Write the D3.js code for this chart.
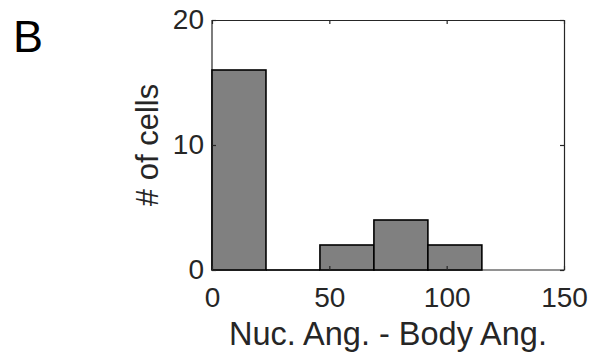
<!DOCTYPE html>
<html>
<head>
<meta charset="utf-8">
<script src="https://cdn.jsdelivr.net/npm/d3@7"></script>
<style>
  body { margin: 0; background: #fff; }
  svg { display: block; font-family: "Liberation Sans", Arial, Helvetica, sans-serif; }
</style>
</head>
<body>
<div id="chart"></div>
<script>
// histogram data
var binEdges = [0, 23, 46, 69, 92, 115];
var counts = [16, 0, 2, 4, 2];
var xTicks = [0, 50, 100, 150];
var yTicks = [0, 10, 20];

var W = 594, H = 358;
var margin = { left: 212, right: 30, top: 20, bottom: 88 };
var width = W - margin.left - margin.right;
var height = H - margin.top - margin.bottom;

var svg = d3.select("#chart")
  .append("svg")
  .attr("width", W)
  .attr("height", H);

var g = svg.append("g")
  .attr("transform", "translate(" + margin.left + "," + margin.top + ")");

var x = d3.scaleLinear().domain([0, 150]).range([0, width]);
var y = d3.scaleLinear().domain([0, 20]).range([height, 0]);

var bins = counts.map(function (c, i) {
  return { x0: binEdges[i], x1: binEdges[i + 1], n: c };
});

var axisColor = "#262626";

function styleAxis(sel) {
  sel.selectAll("path.domain").attr("stroke", axisColor).attr("stroke-width", 1.2);
  sel.selectAll(".tick line").attr("stroke", axisColor).attr("stroke-width", 1.2);
  sel.selectAll(".tick text")
    .attr("fill", axisColor)
    .attr("font-size", "28px");
}

// box with mirrored ticks
var topAxis = g.append("g")
  .call(d3.axisTop(x).tickValues(xTicks).tickSizeInner(-4).tickSizeOuter(0).tickFormat(""));
styleAxis(topAxis);

var rightAxis = g.append("g")
  .attr("transform", "translate(" + width + ",0)")
  .call(d3.axisRight(y).tickValues(yTicks).tickSizeInner(-4).tickSizeOuter(0).tickFormat(""));
styleAxis(rightAxis);

// bottom / left axis lines (under the bars)
g.append("line")
  .attr("x1", 0).attr("x2", width)
  .attr("y1", y(0)).attr("y2", y(0))
  .attr("stroke", axisColor).attr("stroke-width", 1.2);
g.append("line")
  .attr("x1", 0).attr("x2", 0)
  .attr("y1", 0).attr("y2", height)
  .attr("stroke", axisColor).attr("stroke-width", 1.2);

// bars
g.selectAll("rect.bar")
  .data(bins.filter(function (d) { return d.n > 0; }))
  .enter()
  .append("rect")
  .attr("class", "bar")
  .attr("x", function (d) { return x(d.x0); })
  .attr("y", function (d) { return y(d.n); })
  .attr("width", function (d) { return x(d.x1) - x(d.x0); })
  .attr("height", function (d) { return y(0) - y(d.n); })
  .attr("fill", "#808080")
  .attr("stroke", "#000")
  .attr("stroke-width", 1.6);

// empty bins: flat outline on the baseline
g.selectAll("line.empty")
  .data(bins.filter(function (d) { return d.n === 0; }))
  .enter()
  .append("line")
  .attr("class", "empty")
  .attr("x1", function (d) { return x(d.x0); })
  .attr("x2", function (d) { return x(d.x1); })
  .attr("y1", y(0)).attr("y2", y(0))
  .attr("stroke", "#000")
  .attr("stroke-width", 1.6);

// bottom axis ticks + labels (on top of bars)
var xAxisGroup = g.append("g")
  .attr("transform", "translate(0," + height + ")")
  .call(d3.axisBottom(x).tickValues(xTicks).tickSizeInner(-4).tickSizeOuter(0).tickPadding(17));
styleAxis(xAxisGroup);
xAxisGroup.select("path.domain").remove();

// left axis ticks + labels
var yAxisGroup = g.append("g")
  .call(d3.axisLeft(y).tickValues(yTicks).tickSizeInner(-4).tickSizeOuter(0).tickPadding(8));
styleAxis(yAxisGroup);
yAxisGroup.select("path.domain").remove();

// labels
g.append("text")
  .attr("x", width / 2)
  .attr("y", height + 75)
  .attr("text-anchor", "middle")
  .attr("font-size", "32.5px")
  .attr("fill", axisColor)
  .text("Nuc. Ang. - Body Ang.");

g.append("text")
  .attr("transform", "translate(-54," + (height / 2) + ") rotate(-90)")
  .attr("text-anchor", "middle")
  .attr("font-size", "31px")
  .attr("fill", axisColor)
  .text("# of cells");

svg.append("text")
  .attr("x", 13)
  .attr("y", 52)
  .attr("font-size", "45px")
  .attr("fill", "#000")
  .text("B");
</script>
</body>
</html>
